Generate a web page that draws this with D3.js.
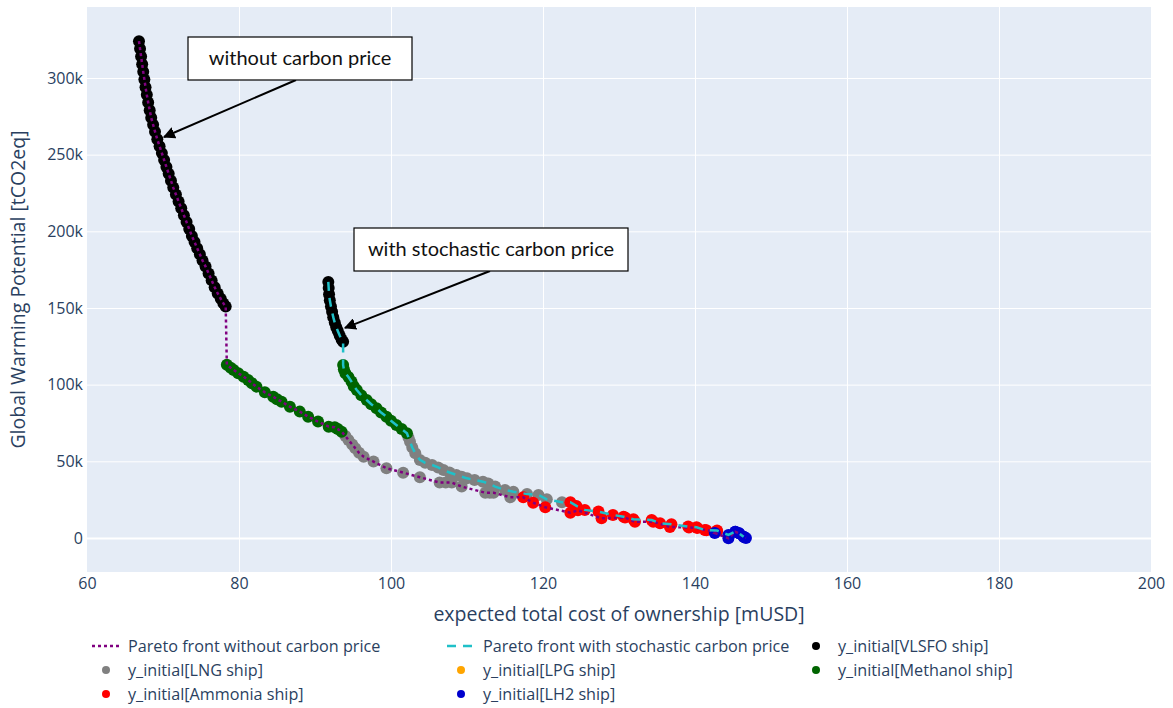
<!DOCTYPE html>
<html>
<head>
<meta charset="utf-8">
<script src="https://cdn.jsdelivr.net/npm/d3@7/dist/d3.min.js"></script>
<style>
  html, body { margin: 0; padding: 0; background: #ffffff; }
  svg { display: block; }
</style>
</head>
<body>
<svg id="chart" width="1173" height="708"></svg>
<script>
// ---- Pareto front without carbon price (cost in mUSD, GWP in tCO2eq, ship type) ----
const costNoCP = [
  66.84, 66.98, 67.12, 67.26, 67.4, 67.55, 67.7, 67.87, 68.05, 68.25, 68.45, 68.7, 68.95, 69.25, 69.55,
  69.85, 70.15, 70.45, 70.75, 71.05, 71.35, 71.7, 72.05, 72.4, 72.75, 73.1, 73.45, 73.8, 74.15, 74.5,
  74.85, 75.2, 75.6, 76.0, 76.4, 76.8, 77.2, 77.6, 77.95, 78.25,
  78.4, 78.9, 79.3, 79.9, 80.6, 81.2, 81.7, 82.3, 83.4, 84.5, 85.0, 85.6, 86.7, 88.0, 89.1, 90.4, 91.8, 92.6, 93.0, 93.5,
  94.0, 94.4, 94.9, 95.3, 95.8, 96.4, 97.7, 99.4, 101.6, 103.8, 106.4, 107.2, 108.0, 109.3, 112.4, 113.0, 113.5, 115.7,
  117.4, 118.7, 120.3, 123.6, 124.6, 127.7, 130.8, 132.1, 134.5, 136.7, 139.2, 140.3, 141.5, 142.9,
  142.6, 144.4, 145.3, 145.8, 146.4, 146.7
];
const gwpNoCP = [
  324000, 319000, 314000, 309000, 304000, 299000, 294000, 289000, 284000, 279000, 274000, 269500, 265000, 260000, 255500,
  251000, 246500, 242000, 237500, 233000, 228500, 224000, 219500, 215000, 210500, 206000, 201500, 197000, 193000, 189000,
  185000, 181000, 177000, 172500, 168000, 163500, 159500, 156000, 153000, 151000,
  113000, 111000, 109600, 107500, 105200, 103000, 100900, 98700, 95000, 92100, 90500, 88900, 85600, 82400, 79100, 75900, 72600, 72200, 71000, 69300,
  66500, 63900, 61000, 58500, 55500, 53000, 49800, 45500, 42600, 39600, 36100, 36100, 36100, 33500, 29500, 29500, 29500, 26500,
  26500, 23000, 20000, 16500, 18000, 12800, 13300, 10500, 10600, 7200, 6800, 6500, 5000, 4300,
  3200, -200, 4000, 3000, 800, 0
];
const shipNoCP = [
  ...Array(40).fill("VLSFO"),
  ...Array(20).fill("Methanol"),
  ...Array(18).fill("LNG"),
  ...Array(14).fill("Ammonia"),
  ...Array(6).fill("LH2")
];

// ---- Pareto front with stochastic carbon price ----
const costStoch = [
  91.75, 91.8, 91.85, 91.95, 92.1, 92.25, 92.4, 92.6, 92.8, 93.0, 93.25, 93.5, 93.7,
  93.7, 93.8, 94.0, 94.4, 94.8, 95.1, 95.5, 96.1, 96.8, 97.4, 98.1, 98.7, 99.4, 100.0, 100.7, 101.4, 102.1,
  102.3, 102.5, 102.8, 103.2, 103.8, 104.5, 105.4, 106.2, 106.9, 107.7, 108.6, 109.3, 110.0, 111.0, 112.1, 112.8,
  113.7, 115.0, 116.1, 117.9, 119.4, 120.5, 122.5,
  123.6, 124.4, 125.5, 127.3, 129.2, 130.6, 131.9, 134.3, 135.4, 136.9, 139.1, 140.2, 141.3, 142.9,
  144.4, 145.3, 145.8, 146.4
];
const gwpStoch = [
  167000, 163000, 159000, 155000, 151000, 147500, 144000, 140500, 137500, 135000, 132000, 129500, 128000,
  112800, 110000, 107500, 105000, 102000, 99000, 96500, 93000, 90000, 87200, 84600, 81800, 79100, 76400, 73700, 71000, 68300,
  65500, 62800, 59000, 55200, 50900, 49000, 47600, 46000, 44300, 42700, 41100, 40000, 38900, 37800, 36700, 35500,
  33500, 31300, 30200, 28700, 28000, 25200, 23300,
  23300, 20900, 18300, 17200, 15000, 13900, 12200, 11700, 9600, 8900, 7400, 7000, 5200, 4800,
  2000, 4100, 3000, 800
];
const shipStoch = [
  ...Array(13).fill("VLSFO"),
  ...Array(17).fill("Methanol"),
  ...Array(23).fill("LNG"),
  ...Array(14).fill("Ammonia"),
  ...Array(4).fill("LH2")
];

// ---- ship types, marker colours, axis ticks ----
const shipTypes = ["VLSFO", "LNG", "LPG", "Methanol", "Ammonia", "LH2"];
const shipColors = ["#000000", "#808080", "#ffa500", "#006400", "#ff0000", "#0000cd"];
const xTicks = [60, 80, 100, 120, 140, 160, 180, 200];
const yTicks = [0, 50000, 100000, 150000, 200000, 250000, 300000];

const svg = d3.select("#chart");
const plot = { left: 87, right: 1151, top: 7, bottom: 572 };

const x = d3.scaleLinear().domain([60, 200]).range([plot.left, plot.right]);
const y = d3.scaleLinear().domain([-22200, 346300]).range([plot.bottom, plot.top]);
const color = d3.scaleOrdinal().domain(shipTypes).range(shipColors);

const fontUI = "'Open Sans', 'Noto Sans', sans-serif";
const textColor = "#2a3f5f";

// plot background
svg.append("rect")
  .attr("x", plot.left).attr("y", plot.top)
  .attr("width", plot.right - plot.left).attr("height", plot.bottom - plot.top)
  .attr("fill", "#e5ecf6");

// grid lines through the axes
const xAxis = d3.axisBottom(x).tickValues(xTicks).tickSize(-(plot.bottom - plot.top)).tickFormat(d3.format("d"));
const gx = svg.append("g").attr("transform", `translate(0,${plot.bottom})`).call(xAxis);
gx.select(".domain").remove();
gx.selectAll(".tick line").attr("stroke", "#ffffff").attr("stroke-width", 1);
gx.selectAll(".tick text")
  .attr("y", 6).attr("font-family", fontUI).attr("font-size", 16).attr("fill", textColor);
gx.selectAll(".tick").filter(d => d === 60 || d === 200).select("line").remove();

const yAxis = d3.axisLeft(y).tickValues(yTicks).tickSize(-(plot.right - plot.left))
  .tickFormat(d => d === 0 ? "0" : (d / 1000) + "k");
const gy = svg.append("g").attr("transform", `translate(${plot.left},0)`).call(yAxis);
gy.select(".domain").remove();
gy.selectAll(".tick line").attr("stroke", "#ffffff").attr("stroke-width", d => d === 0 ? 2 : 1);
gy.selectAll(".tick text")
  .attr("x", -4).attr("font-family", fontUI).attr("font-size", 16).attr("fill", textColor);

// axis titles
svg.append("text")
  .attr("x", (plot.left + plot.right) / 2).attr("y", 621)
  .attr("text-anchor", "middle")
  .attr("font-family", fontUI).attr("font-size", 19.5).attr("fill", textColor)
  .text("expected total cost of ownership [mUSD]");
svg.append("text")
  .attr("transform", `translate(25,${(plot.top + plot.bottom) / 2}) rotate(-90)`)
  .attr("text-anchor", "middle")
  .attr("font-family", fontUI).attr("font-size", 19.5).attr("fill", textColor)
  .text("Global Warming Potential [tCO2eq]");

// clip marks to the plot area
svg.append("clipPath").attr("id", "plotclip")
  .append("rect")
  .attr("x", plot.left).attr("y", plot.top)
  .attr("width", plot.right - plot.left).attr("height", plot.bottom - plot.top);
const marks = svg.append("g").attr("clip-path", "url(#plotclip)");

// initial designs, coloured by ship type
const points = [
  ...costNoCP.map((c, i) => ({ cost: c, gwp: gwpNoCP[i], ship: shipNoCP[i] })),
  ...costStoch.map((c, i) => ({ cost: c, gwp: gwpStoch[i], ship: shipStoch[i] }))
];
shipTypes.forEach(type => {
  marks.append("g")
    .selectAll("circle")
    .data(points.filter(p => p.ship === type))
    .join("circle")
    .attr("cx", d => x(d.cost))
    .attr("cy", d => y(d.gwp))
    .attr("r", 6)
    .attr("fill", color(type));
});

// Pareto front lines
const line = d3.line().x(d => x(d[0])).y(d => y(d[1]));
marks.append("path")
  .datum(costNoCP.map((c, i) => [c, gwpNoCP[i]]))
  .attr("d", line)
  .attr("fill", "none").attr("stroke", "#800080").attr("stroke-width", 2.5)
  .attr("stroke-dasharray", "3,3");
marks.append("path")
  .datum(costStoch.map((c, i) => [c, gwpStoch[i]]))
  .attr("d", line)
  .attr("fill", "none").attr("stroke", "#1fc0c8").attr("stroke-width", 2.5)
  .attr("stroke-dasharray", "9,7");

// callouts
svg.append("defs").append("marker")
  .attr("id", "arrowhead")
  .attr("viewBox", "0 0 10 10").attr("refX", 9).attr("refY", 5)
  .attr("markerWidth", 6).attr("markerHeight", 6)
  .attr("orient", "auto")
  .append("path").attr("d", "M0,0 L10,5 L0,10 Z").attr("fill", "#000");

const callouts = [
  { text: "without carbon price", box: [188, 37, 224, 43], from: [296, 80], to: [x(70.13), y(261500)] },
  { text: "with stochastic carbon price", box: [354, 228, 274, 43], from: [490, 271], to: [x(93.95), y(137000)] }
];
callouts.forEach(c => {
  svg.append("line")
    .attr("x1", c.from[0]).attr("y1", c.from[1])
    .attr("x2", c.to[0]).attr("y2", c.to[1])
    .attr("stroke", "#000").attr("stroke-width", 2)
    .attr("marker-end", "url(#arrowhead)");
  svg.append("rect")
    .attr("x", c.box[0]).attr("y", c.box[1]).attr("width", c.box[2]).attr("height", c.box[3])
    .attr("fill", "#ffffff").attr("stroke", "#000").attr("stroke-width", 1.2);
  svg.append("text")
    .attr("x", c.box[0] + c.box[2] / 2).attr("y", c.box[1] + c.box[3] / 2 + 6.5)
    .attr("text-anchor", "middle")
    .attr("font-family", "Lato, 'Open Sans', sans-serif").attr("font-size", 20).attr("fill", "#111")
    .text(c.text);
});

// legend
const legendItems = [
  { label: "Pareto front without carbon price", kind: "line", stroke: "#800080", dash: "3,3" },
  { label: "Pareto front with stochastic carbon price", kind: "line", stroke: "#1fc0c8", dash: "9,7" },
  ...shipTypes.map(t => ({ label: `y_initial[${t} ship]`, kind: "dot", fill: color(t) }))
];
const colX = [92, 447, 802];
const rowY = [646, 670, 694];
legendItems.forEach((item, i) => {
  const g = svg.append("g").attr("transform", `translate(${colX[i % 3]},${rowY[Math.floor(i / 3)]})`);
  if (item.kind === "line") {
    g.append("line").attr("x1", 0).attr("x2", 28).attr("y1", 0).attr("y2", 0)
      .attr("stroke", item.stroke).attr("stroke-width", 2.5).attr("stroke-dasharray", item.dash);
  } else {
    g.append("circle").attr("cx", 14).attr("cy", 0).attr("r", 4).attr("fill", item.fill);
  }
  g.append("text").attr("x", 36).attr("y", 5.5)
    .attr("font-family", fontUI).attr("font-size", 16.2).attr("fill", textColor)
    .text(item.label);
});
</script>
</body>
</html>
